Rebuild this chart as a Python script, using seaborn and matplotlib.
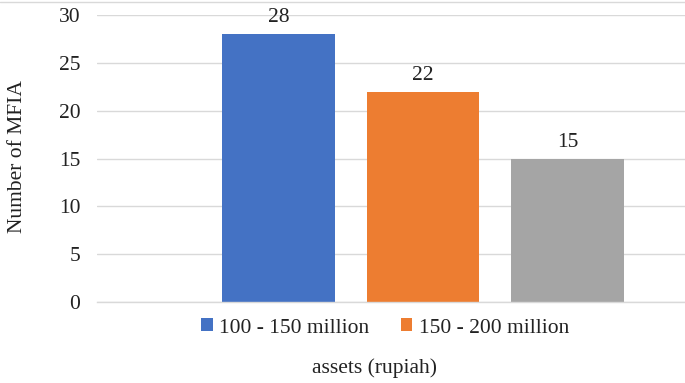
import matplotlib
matplotlib.use("Agg")
import matplotlib.pyplot as plt
import seaborn as sns
from matplotlib.patches import Patch
from matplotlib.lines import Line2D

categories = ["100 - 150 million", "150 - 200 million", "200 - 250 million"]
values = [28, 22, 15]
colors = ["#4472C4", "#ED7D31", "#A5A5A5"]
legend_labels = ["100 - 150 million", "150 - 200 million"]
yticks = [0, 5, 10, 15, 20, 25, 30]

sns.set_theme(style="white")
plt.rcParams["font.family"] = ["Liberation Serif", "DejaVu Serif"]

FS = 15.5
W, H = 685, 383
fig = plt.figure(figsize=(W / 100, H / 100), dpi=100)
left, right, top, bottom = 97, 685, 15, 302
ax = fig.add_axes([left / W, 1 - bottom / H, (right - left) / W, (bottom - top) / H])

sns.barplot(x=categories, y=values, hue=categories, palette=colors,
            width=0.782, legend=False, ax=ax, saturation=1, linewidth=0)

spacing = 144.5
c0 = 278.5
ax.set_xlim(-(c0 - left) / spacing, (right - c0) / spacing)
ax.set_ylim(0, 30)
ax.set_yticks(yticks)
ax.set_xticks([])
ax.set_xlabel("")
ax.set_ylabel("")
ax.yaxis.grid(True, color="#D9D9D9", lw=1)
ax.set_axisbelow(True)
for s in ["top", "left", "right"]:
    ax.spines[s].set_visible(False)
ax.spines["bottom"].set_color("#D9D9D9")
ax.spines["bottom"].set_linewidth(1)
ax.tick_params(axis="y", length=0, pad=12, labelsize=FS, labelcolor="#222222")

for c in ax.containers:
    ax.bar_label(c, fontsize=FS, padding=5, color="#222222")

fig.text(18 / W, 1 - 157 / H, "Number of MFIA", rotation=90, ha="center",
         va="center", fontsize=FS, color="#222222")
fig.text(375 / W, 1 - 368 / H, "assets (rupiah)", ha="center", va="center",
         fontsize=FS, color="#222222")

handles = [Patch(facecolor=colors[i], edgecolor="none") for i in range(len(legend_labels))]
fig.legend(handles, legend_labels, loc="center", bbox_to_anchor=(385 / W, 1 - 328 / H),
           ncol=2, frameon=False, handlelength=0.55, handleheight=0.55,
           handletextpad=0.3, columnspacing=1.45, fontsize=FS,
           labelcolor="#222222")

fig.add_artist(Line2D([0, 1], [1 - 1.5 / H, 1 - 1.5 / H], color="#D9D9D9", lw=1,
                      transform=fig.transFigure))

fig.savefig("out.png", dpi=100)
